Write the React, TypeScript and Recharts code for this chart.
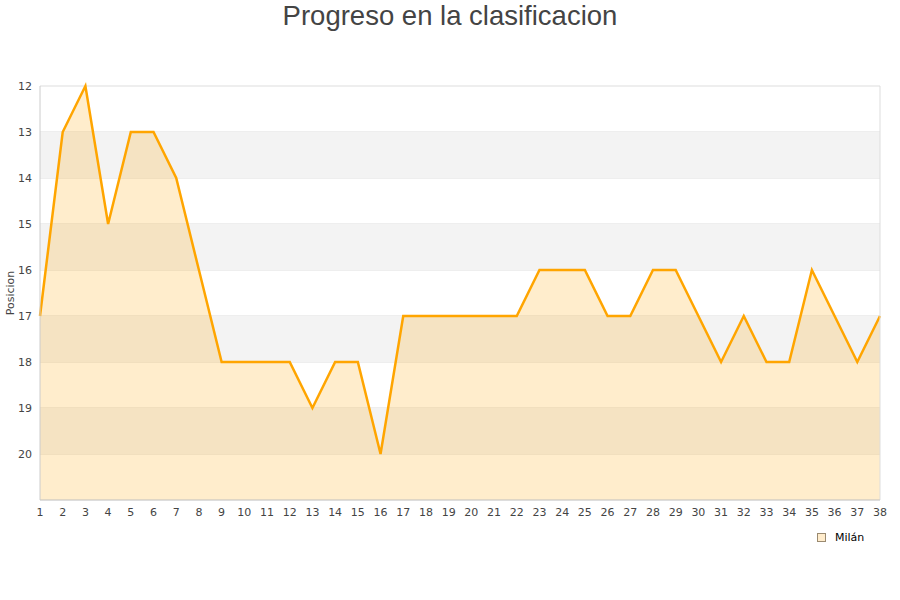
import React from 'react';
import { ComposedChart, Area, XAxis, YAxis, CartesianGrid, ReferenceArea, ReferenceLine } from 'recharts';

const jornadas = [1,2,3,4,5,6,7,8,9,10,11,12,13,14,15,16,17,18,19,20,21,22,23,24,25,26,27,28,29,30,31,32,33,34,35,36,37,38];
const posiciones = [17,13,12,15,13,13,14,16,18,18,18,18,19,18,18,20,17,17,17,17,17,17,16,16,16,17,17,16,16,17,18,17,18,18,16,17,18,17];
const yTicks = [12,13,14,15,16,17,18,19,20];
const bands = [[13,14],[15,16],[17,18],[19,20]];
const seriesName = 'Milán';

const data = jornadas.map((j, i) => ({ j, pos: posiciones[i] }));

const tickStyle = { fontFamily: 'DejaVu Sans', fontSize: 11, fill: '#444' };

export default function App() {
  return (
    <div style={{ position: 'absolute', left: 0, top: 0, width: 900, height: 600, background: '#fff' }}>
      <div style={{ position: 'absolute', left: 0, top: 0, width: 900, textAlign: 'center', fontFamily: 'Liberation Sans', fontSize: 27.5, color: '#444', lineHeight: '32px' }}>
        Progreso en la clasificacion
      </div>
      <ComposedChart width={900} height={600} data={data} margin={{ top: 86, right: 20, bottom: 70, left: 0 }}>
        {bands.map(([a, b]) => (
          <ReferenceArea key={a} y1={a} y2={b} fill="#f3f3f3" fillOpacity={1} stroke="none" />
        ))}
        <CartesianGrid vertical={false} stroke="#dddddd" />
        <XAxis dataKey="j" type="number" domain={[1, 38]} ticks={jornadas} interval={0} tickLine={false} axisLine={{ stroke: '#cccccc' }} tick={tickStyle} />
        <YAxis type="number" domain={[12, 21]} reversed ticks={yTicks} interval={0} width={40} tickLine={false} axisLine={{ stroke: '#cccccc' }} tick={tickStyle}
          label={{ value: 'Posicion', angle: -90, position: 'insideLeft', offset: 10, style: { fontFamily: 'DejaVu Sans', fontSize: 11, fill: '#444', textAnchor: 'middle' } }} />
        <ReferenceLine x={38} stroke="#dddddd" />
        <Area type="linear" dataKey="pos" baseValue={21} stroke="#ffa500" strokeWidth={2.5} fill="#ffa500" fillOpacity={0.2} dot={false} activeDot={false} isAnimationActive={false} />
      </ComposedChart>
      <div style={{ position: 'absolute', left: 817, top: 531, display: 'flex', alignItems: 'center', fontFamily: 'DejaVu Sans', fontSize: 11, color: '#000' }}>
        <span style={{ display: 'inline-block', width: 7, height: 7, background: '#ffeccc', border: '1px solid #9a8a70', marginRight: 9 }} />
        <span>{seriesName}</span>
      </div>
    </div>
  );
}
